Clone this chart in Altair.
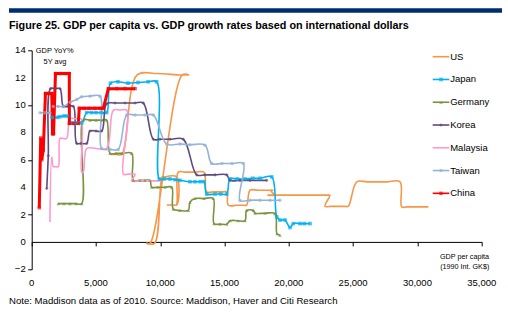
import altair as alt
import pandas as pd

countries = ["US", "Japan", "Germany", "Korea", "Malaysia", "Taiwan", "China"]
colors = ["#F79646", "#00B0F0", "#77933C", "#604A7B", "#FF99CC", "#95B3D7", "#FF0000"]
shapes = ["stroke", "square", "triangle-up", "diamond", "stroke", "circle", "square"]
sizes = [14, 12, 14, 12, 16, 10, 26]

us_x = [6200, 6430, 6130, 6560, 7010, 8200, 9740, 11520, 12240, 11710,
        9200, 8890, 9070, 8940, 9560, 10150, 10330, 10620, 10360, 11280,
        11280, 11000, 10500, 11000, 11250, 11400, 11900, 12240, 12770, 13400,
        13610, 14140, 14330, 14860, 15170, 15290, 15940, 16690, 16490, 16720,
        16980, 17570, 18370, 18790, 18580, 18860, 18330, 18920, 20120, 20720,
        21240, 21790, 22500, 23060, 23200, 22810, 23300, 23620, 24350, 24620,
        25280, 26090, 26860, 27620, 28650, 28780, 29170, 29940, 30480, 30850]
us_y = [6.4, 6.4, 6.4, 6.4, 6.4, 12.2, 12.3, 12.2, 12.2, 12.2,
        -0.1, -0.1, -0.1, -0.1, -0.1, 4.75, 4.75, 4.75, 4.75, 4.75,
        2.7, 2.7, 2.7, 2.7, 2.7, 5.1, 5.1, 5.1, 5.1, 5.1,
        3.66, 3.66, 3.66, 3.66, 3.66, 2.68, 2.68, 2.68, 2.68, 2.68,
        3.78, 3.78, 3.78, 3.78, 3.78, 3.42, 3.42, 3.42, 3.42, 3.42,
        3.42, 3.42, 3.42, 3.42, 3.42, 2.6, 2.6, 2.6, 2.6, 2.6,
        4.39, 4.39, 4.39, 4.39, 4.39, 2.56, 2.56, 2.56, 2.56, 2.56]

japan_x = [1580, 2000, 2200, 2500, 2750, 3130, 3400, 3650, 3900, 4280,
           4650, 5000, 5400, 5830, 6130, 6710, 7490, 8270, 9050, 9720,
           9925, 10300, 10760, 11150, 11530, 12310, 12700, 13100, 13400, 13610,
           14260, 14700, 15170, 15420, 16000, 16590, 17200, 17760, 18670, 19060,
           19310, 19700, 20090, 20350, 20870, 21200, 21650]
japan_y = [9.1, 9.1, 9.15, 9.2, 9.2, 8.7, 8.7, 8.7, 8.7, 9.45,
           9.45, 9.45, 9.45, 9.45, 11.6, 11.7, 11.6, 11.65, 11.7, 11.7,
           4.6, 4.6, 4.6, 4.55, 4.5, 4.4, 4.4, 4.4, 4.4, 3.5,
           3.5, 3.5, 3.5, 4.6, 4.6, 4.6, 4.65, 4.65, 4.75, 1.83,
           1.6, 1.6, 1.05, 1.34, 1.34, 1.34, 1.34]

germany_x = [2070, 2510, 2980, 3450, 3890, 4010, 4530, 5000, 5470, 5830,
             6090, 6560, 7020, 7780, 7900, 8420, 8800, 9200, 9330, 9820,
             10370, 10890, 11010, 11530, 12180, 12310, 12700, 13400, 14120, 14180,
             14650, 15170, 15420, 16050, 16590, 16720, 17240, 17370, 18150, 18920,
             19080, 19310]
germany_y = [2.8, 2.8, 2.8, 2.8, 2.8, 8.9, 8.9, 8.9, 8.9, 8.9,
             6.47, 6.47, 6.47, 6.47, 4.5, 4.5, 4.5, 4.5, 4.0, 4.0,
             4.0, 4.0, 2.4, 2.3, 2.3, 2.9, 3.17, 3.17, 3.17, 1.34,
             1.3, 1.3, 1.55, 1.55, 1.55, 2.3, 2.3, 2.1, 2.1, 2.07,
             0.6, 0.5]

korea_x = [1170, 1290, 1460, 1810, 2200, 2460, 2820, 3240, 3500, 3840,
           4280, 4530, 5000, 5450, 5830, 6480, 7260, 8040, 8680, 9460,
           9980, 10760, 11790, 12830, 13480, 14260, 15170, 15420, 16200, 16980,
           18280]
korea_y = [3.9, 6.3, 11.2, 11.2, 11.2, 9.9, 9.9, 9.9, 7.2, 7.2,
           7.2, 8.1, 8.1, 8.1, 10.1, 10.15, 10.15, 10.15, 10.15, 7.5,
           7.5, 7.5, 7.5, 4.9, 4.9, 4.9, 4.9, 4.5, 4.5, 4.5,
           4.5]

malaysia_x = [1420, 1560, 1680, 1850, 2070, 2200, 2460, 2720, 2980, 3400,
              3835, 3890, 4010, 4280, 5000, 5830, 6350, 6870, 7390, 7130,
              7490, 8040, 7780, 8420, 9200, 9980]
malaysia_y = [1.46, 6.2, 5.5, 5.5, 5.5, 7.56, 7.56, 7.56, 9.0, 9.0,
              9.0, 5.1, 5.1, 6.83, 6.83, 6.83, 9.63, 9.63, 9.63, 4.95,
              4.95, 4.95, 4.46, 4.46, 4.46, 4.46]

taiwan_x = [650, 1030, 1420, 1680, 2050, 2460, 3000, 3500, 3890, 4530,
            5310, 5440, 6090, 6730, 7390, 8040, 8810, 9460, 10500, 11530,
            12310, 13480, 14000, 14800, 15580, 16460, 16200, 16980, 17760, 18540,
            19310]
taiwan_y = [9.44, 9.44, 9.44, 9.9, 9.9, 9.9, 10.2, 10.4, 10.6, 10.65,
            10.65, 6.83, 6.76, 6.76, 9.27, 9.27, 9.27, 9.27, 7.15, 7.15,
            7.1, 7.07, 5.73, 5.73, 5.73, 5.73, 3.03, 3.05, 3.05, 3.05,
            3.05]

china_x = [590, 700, 780, 900, 1070, 1310, 1560, 1620, 1700, 1850,
           2280, 2590, 2925, 2930, 3250, 3625, 3700, 4070, 4460, 4900,
           5310, 5570, 5960, 6610, 7260, 8040]
china_y = [2.5, 7.6, 6.0, 6.7, 10.85, 10.85, 10.85, 7.9, 7.9, 12.3,
           12.3, 12.3, 12.3, 8.66, 8.66, 8.66, 9.76, 9.76, 9.76, 9.76,
           9.76, 9.76, 11.2, 11.2, 11.2, 11.2]

x_ticks = [0, 5000, 10000, 15000, 20000, 25000, 30000, 35000]
y_ticks = [-2, 0, 2, 4, 6, 8, 10, 12, 14]

title = "Figure 25. GDP per capita vs. GDP growth rates based on international dollars"
footer = "Note: Maddison data as of 2010. Source: Maddison, Haver and Citi Research"

series = {
    "US": (us_x, us_y), "Japan": (japan_x, japan_y), "Germany": (germany_x, germany_y),
    "Korea": (korea_x, korea_y), "Malaysia": (malaysia_x, malaysia_y),
    "Taiwan": (taiwan_x, taiwan_y), "China": (china_x, china_y),
}
rows = []
for c in countries:
    xs_, ys_ = series[c]
    for i, (a, b) in enumerate(zip(xs_, ys_)):
        rows.append({"country": c, "seq": i, "gdp": a, "growth": b})
df = pd.DataFrame(rows)

W, H = 450, 219
FONT = "Liberation Sans"

xs = alt.Scale(domain=[0, 35000], nice=False, zero=False)
ys = alt.Scale(domain=[-2, 14], nice=False, zero=False)
cscale = alt.Scale(domain=countries, range=colors)
sscale = alt.Scale(domain=countries, range=shapes)
zscale = alt.Scale(domain=countries, range=sizes)

others = alt.Chart(df).transform_filter(alt.datum.country != "China")
lines = others.mark_line(strokeWidth=1.6, interpolate="catmull-rom").encode(
    x=alt.X("gdp:Q", scale=xs, axis=alt.Axis(values=x_ticks, labels=False, grid=False,
            offset=-27.4, domainColor="black", tickColor="black", tickSize=4, title=None)),
    y=alt.Y("growth:Q", scale=ys, axis=alt.Axis(values=y_ticks, grid=False, domainColor="black",
            tickColor="black", tickSize=4, labels=False, title=None)),
    color=alt.Color("country:N", scale=cscale, legend=None),
    order="seq:Q",
    detail="country:N",
)
china_line = alt.Chart(df).transform_filter(alt.datum.country == "China").mark_line(
    strokeWidth=3, color="#FF0000").encode(
    x=alt.X("gdp:Q", scale=xs), y=alt.Y("growth:Q", scale=ys), order="seq:Q")
pts = alt.Chart(df).mark_point(filled=True, strokeWidth=1.2).encode(
    x=alt.X("gdp:Q", scale=xs), y=alt.Y("growth:Q", scale=ys),
    color=alt.Color("country:N", scale=cscale, legend=None),
    shape=alt.Shape("country:N", scale=sscale, legend=None),
    size=alt.Size("country:N", scale=zscale, legend=None),
)

xlab = alt.Chart(pd.DataFrame({"v": x_ticks})).transform_calculate(
    lab="format(datum.v, ',')").mark_text(fontSize=9.5, font=FONT, color="black").encode(
    x=alt.X("v:Q", scale=xs), y=alt.value(233), text="lab:N")
ylab = alt.Chart(pd.DataFrame({"v": y_ticks})).mark_text(
    fontSize=9.5, font=FONT, color="black", align="right", baseline="middle").encode(
    y=alt.Y("v:Q", scale=ys), x=alt.value(-6), text="v:Q")

def label(s, x, y, size=9.5, weight="normal", align="left", baseline="middle"):
    return alt.Chart(pd.DataFrame({"t": [s]})).mark_text(
        align=align, baseline=baseline, fontSize=size, fontWeight=weight, font=FONT,
        color="black").encode(x=alt.value(x), y=alt.value(y), text="t:N")

bar = alt.Chart(pd.DataFrame({"a": [0]})).mark_rect(color="#002D72").encode(
    x=alt.value(-22.7), x2=alt.value(470.3), y=alt.value(-42), y2=alt.value(-37.6))

ttl = label(title, -22.7, -21, size=10.8, weight="bold", baseline="alphabetic")
foot = label(footer, -22.7, 250.7, size=9.6)
ylab1 = label("GDP YoY%", 23, 0.4, size=7.4, align="center")
ylab2 = label("5Y avg", 23.3, 11.2, size=7.4, align="center")
xlab1 = label("GDP per capita", 432.8, 206.4, size=7.2, align="center")
xlab2 = label("(1990 Int. GK$)", 433, 216.4, size=7.2, align="center")

leg = pd.DataFrame({"country": countries, "idx": list(range(len(countries)))})
legbase = alt.Chart(leg).transform_calculate(ly="6.4 + 22.77*datum.idx")
leg_lines = legbase.mark_rule(strokeWidth=1.6).encode(
    x=alt.value(401), x2=alt.value(417.6), y=alt.Y("ly:Q", scale=None),
    color=alt.Color("country:N", scale=cscale, legend=None))
leg_pts = legbase.mark_point(filled=True).encode(
    x=alt.value(409.3), y=alt.Y("ly:Q", scale=None),
    color=alt.Color("country:N", scale=cscale, legend=None),
    shape=alt.Shape("country:N", scale=sscale, legend=None),
    size=alt.Size("country:N", scale=zscale, legend=None))
leg_txt = legbase.mark_text(align="left", baseline="middle", fontSize=9.5,
    font=FONT, color="black").encode(
    x=alt.value(418.5), y=alt.Y("ly:Q", scale=None), text="country:N")

chart = alt.layer(
    lines, china_line, pts, xlab, ylab, bar, ttl, foot, ylab1, ylab2, xlab1, xlab2,
    leg_lines, leg_pts, leg_txt
).properties(
    width=W, height=H,
    autosize=alt.AutoSizeParams(type="none"),
    padding={"left": 31.7, "top": 50.3, "right": 508 - 31.7 - W, "bottom": 324 - 50.3 - H},
    background="white",
).configure_view(stroke=None)

chart.save("out.html", embed_options={"renderer": "svg", "actions": False})
